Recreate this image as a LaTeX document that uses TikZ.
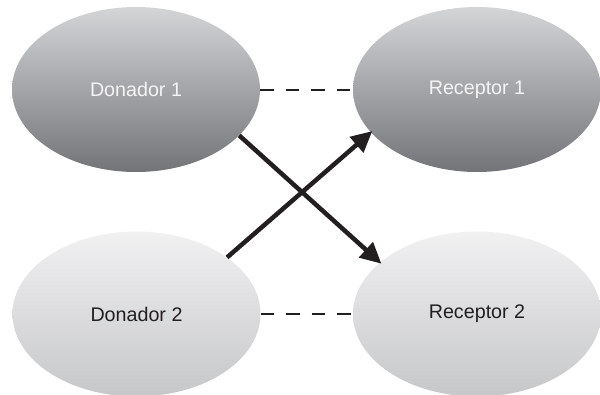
\documentclass[tikz,border=0pt]{standalone}
\usepackage{fontspec}
\setmainfont{Liberation Sans}
\usetikzlibrary{shapes.geometric,arrows.meta}

\definecolor{darktop}{HTML}{D4D5D7}
\definecolor{darkmid}{HTML}{BBBCBE}
\definecolor{darkbot}{HTML}{737478}
\definecolor{lighttop}{HTML}{F1F1F2}
\definecolor{lightmid}{HTML}{E7E7E8}
\definecolor{lightbot}{HTML}{C6C7C9}
\definecolor{inkdark}{HTML}{231F20}
\definecolor{inklight}{HTML}{F4F4F4}

\tikzset{
  blob/.style={ellipse, minimum width=248pt, minimum height=165pt, inner sep=0pt,
    font=\fontsize{19.7}{24}\selectfont},
  darkblob/.style={blob, top color=darktop, middle color=darkmid, bottom color=darkbot,
    text=inklight},
  lightblob/.style={blob, top color=lighttop, middle color=lightmid, bottom color=lightbot,
    text=inkdark},
  pairing/.style={draw=inkdark, line width=2pt, dash pattern=on 13.5pt off 12pt},
  transfer/.style={draw=inkdark, line width=4.5pt,
    -{Triangle[length=21pt,width=20pt]}, shorten >=-2pt},
}

\begin{document}
\begin{tikzpicture}[x=1pt,y=-1pt]
  \useasboundingbox (0,0) rectangle (600,394);
  \begin{scope}
    \clip (0,0) rectangle (600,394);
    \node[darkblob]  (d1) at (136,89.5) {Donador 1};
    \node[darkblob]  (r1) at (477,89.5) {Receptor 1};
    \node[lightblob] (d2) at (136.5,314) {Donador 2};
    \node[lightblob] (r2) at (477,314) {Receptor 2};
  \end{scope}

  % dashed pairings
  \draw[pairing] (d1.east) -- (r1.west);
  \draw[pairing] (d2.east) -- (r2.west);

  % crossed transfers
  \draw[transfer] (d1.-24) -- (r2.152);
  \draw[transfer] (d2.32) -- (r1.-158);
\end{tikzpicture}
\end{document}
